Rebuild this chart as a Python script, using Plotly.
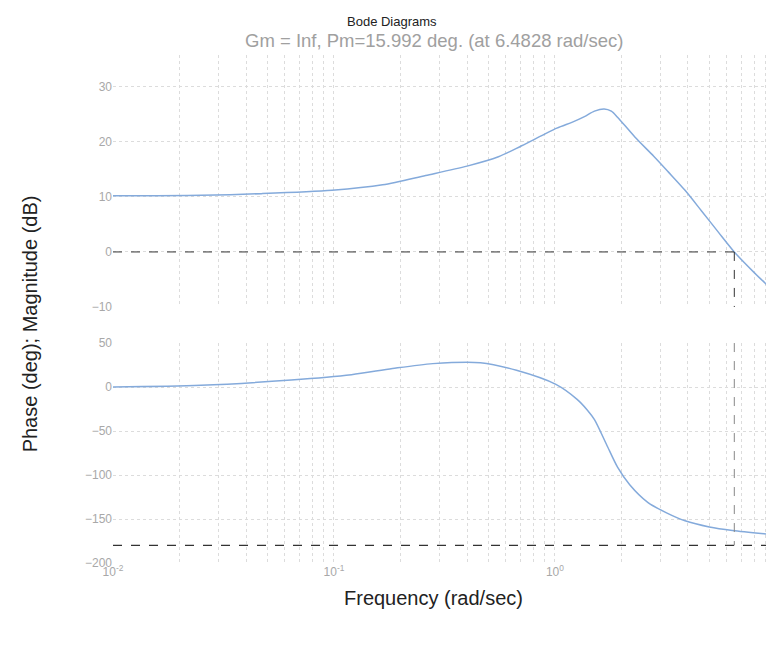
import math
import plotly.graph_objects as go

# ---- data ----
mag_freq = [0.01, 0.025, 0.047, 0.098, 0.166, 0.26, 0.40, 0.555, 0.707, 1.02,
            1.2, 1.36, 1.51, 1.67, 1.80, 1.92, 2.30, 2.80, 3.25, 3.88, 4.60, 5.49, 6.4828, 8.0, 10.0]
mag_db = [10.2, 10.3, 10.6, 11.2, 12.2, 13.9, 15.6, 17.3, 19.3, 22.5,
          23.6, 24.6, 25.6, 26.0, 25.6, 24.5, 20.9, 17.4, 14.6, 11.2, 7.5, 3.6, 0.0, -3.8, -7.5]

phase_freq = [0.01, 0.025, 0.064, 0.12, 0.184, 0.28, 0.46, 0.67, 1.01, 1.26,
              1.40, 1.51, 1.71, 1.92, 2.18, 2.63, 3.2, 3.88, 5.0, 6.36, 10.0]
phase_deg = [0, 2, 8, 14, 21, 26.6, 27.7, 19, 3, -14,
             -26, -37, -65, -91, -111, -131, -143, -152, -159, -163, -168]

wc = 6.4828          # gain crossover frequency (rad/sec)
pm = 15.992          # phase margin (deg)
freq_range = [0.01, 10.0]
mag_ticks = [-10, 0, 10, 20, 30]
phase_ticks = [-200, -150, -100, -50, 0, 50]
x_ticks = [0.01, 0.1, 1, 10]
x_tick_text = ["10<sup>-2</sup>", "10<sup>-1</sup>", "10<sup>0</sup>", "10<sup>1</sup>"]
minor_ticks = [m * d for d in (0.01, 0.1, 1) for m in range(2, 10)]

line_blue = "#84aadb"
grid_col = "#dcdcdc"
tick_col = "#a8a8a8"
font_fam = "Liberation Sans"

fig = go.Figure()

# magnitude
fig.add_trace(go.Scatter(x=mag_freq, y=mag_db, mode="lines",
                         line=dict(color=line_blue, width=1.5, shape="spline", smoothing=0.8),
                         xaxis="x", yaxis="y", showlegend=False))
fig.add_trace(go.Scatter(x=[freq_range[0], wc], y=[0, 0], mode="lines",
                         line=dict(color="#333", width=1, dash="dash"), xaxis="x", yaxis="y", showlegend=False))
fig.add_trace(go.Scatter(x=[wc, wc], y=[0, -10], mode="lines",
                         line=dict(color="#333", width=1, dash="dash"), xaxis="x", yaxis="y", showlegend=False))

# phase
fig.add_trace(go.Scatter(x=phase_freq, y=phase_deg, mode="lines",
                         line=dict(color=line_blue, width=1.5, shape="spline", smoothing=0.8),
                         xaxis="x2", yaxis="y2", showlegend=False))
fig.add_trace(go.Scatter(x=freq_range, y=[-180, -180], mode="lines",
                         line=dict(color="#333", width=1.2, dash="dash"), xaxis="x2", yaxis="y2", showlegend=False))
fig.add_trace(go.Scatter(x=[wc, wc], y=[50, -180], mode="lines",
                         line=dict(color="#888", width=1, dash="dash"), xaxis="x2", yaxis="y2", showlegend=False))

xr = [math.log10(freq_range[0]), math.log10(freq_range[1]) + 0.0005]

xcommon = dict(type="log", range=xr, showgrid=True, gridcolor=grid_col, griddash="dot",
               minor=dict(tickmode="array", tickvals=minor_ticks, showgrid=True,
                          gridcolor=grid_col, griddash="dot", ticks=""),
               zeroline=False, showline=False, ticks="", tickmode="array", tickvals=x_ticks,
               ticktext=x_tick_text,
               tickfont=dict(color=tick_col, size=12, family=font_fam))

ycommon = dict(showgrid=True, gridcolor=grid_col, griddash="dot", zeroline=False, showline=False,
               ticks="", tickfont=dict(color=tick_col, size=12, family=font_fam))

fig.update_layout(
    width=774, height=646,
    paper_bgcolor="white", plot_bgcolor="white",
    margin=dict(l=105, r=6, t=47, b=91),
    xaxis=dict(**xcommon, domain=[0, 1], anchor="y", showticklabels=False),
    xaxis2=dict(**xcommon, domain=[0, 1], anchor="y2"),
    yaxis=dict(**ycommon, domain=[0.504, 1], range=[-10, 35.8], tickvals=mag_ticks),
    yaxis2=dict(**ycommon, domain=[0, 0.433], range=[-200, 50], tickvals=phase_ticks),
    annotations=[
        dict(text="Bode Diagrams", x=0.421, y=1.065, xref="paper", yref="paper", showarrow=False,
             xanchor="center", yanchor="middle", font=dict(size=13, color="#222", family=font_fam)),
        dict(text=f"Gm = Inf, Pm={pm} deg. (at {wc} rad/sec)", x=0.484, y=1.0295, xref="paper", yref="paper",
             xanchor="center", yanchor="middle", showarrow=False,
             font=dict(size=18.5, color="#a0a0a0", family=font_fam)),
        dict(text="Phase (deg); Magnitude (dB)", x=-0.125, y=0.47, xref="paper", yref="paper",
             xanchor="center", yanchor="middle",
             textangle=-90, showarrow=False, font=dict(size=20, color="#222", family=font_fam)),
        dict(text="Frequency (rad/sec)", x=0.484, y=-0.069, xref="paper", yref="paper", showarrow=False,
             xanchor="center", yanchor="middle", font=dict(size=20, color="#222", family=font_fam)),
    ],
)

fig.write_html("out.html")
